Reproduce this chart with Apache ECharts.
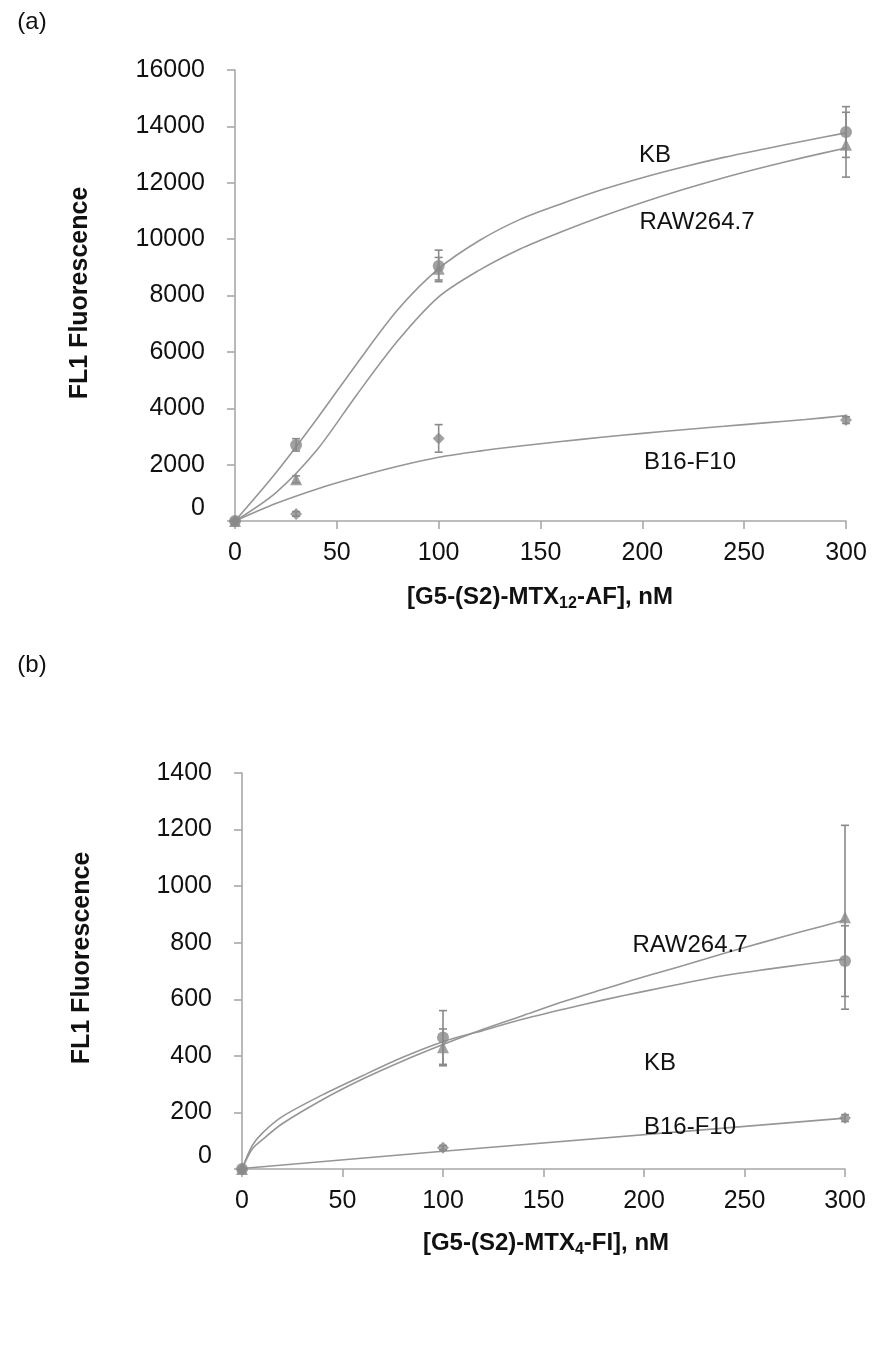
<!DOCTYPE html>
<html>
<head>
<meta charset="utf-8">
<script src="https://cdn.jsdelivr.net/npm/echarts@6/dist/echarts.min.js"></script>
<style>
  html, body { margin: 0; padding: 0; background: #fff; }
  #chart { width: 877px; height: 1357px; }
</style>
</head>
<body>
<div id="chart"></div>
<script>
// ---- Panel (a): G5-(S2)-MTX12-AF uptake ----
const concA = [0, 30, 100, 300];
const kbA = [0, 2700, 9050, 13800];
const kbErrA = [0, 220, 560, 900];
const rawA = [0, 1480, 8950, 13350];
const rawErrA = [0, 120, 400, 1150];
const b16A = [0, 250, 2930, 3580];
const b16ErrA = [0, 80, 490, 120];

// fitted curves, panel (a)
const fitXA = [0, 20, 40, 60, 80, 100, 120, 140, 160, 180, 200, 220, 240, 260, 280, 300];
const kbFitA = [0, 1700, 3600, 5600, 7500, 8950, 9950, 10700, 11250, 11750, 12180, 12560, 12900, 13200, 13490, 13770];
const rawFitA = [0, 1000, 2500, 4500, 6400, 7950, 8900, 9650, 10250, 10800, 11300, 11760, 12180, 12560, 12910, 13230];
const b16FitA = [0, 620, 1130, 1560, 1940, 2260, 2480, 2660, 2820, 2970, 3110, 3240, 3360, 3480, 3600, 3740];

// ---- Panel (b): G5-(S2)-MTX4-FI uptake ----
const concB = [0, 100, 300];
const kbB = [0, 465, 735];
const kbErrB = [0, 95, 125];
const rawB = [0, 430, 890];
const rawErrB = [0, 65, 325];
const b16B = [0, 75, 180];
const b16ErrB = [0, 8, 12];

// fitted curves, panel (b)
const fitXB = [0, 5, 10, 20, 40, 60, 80, 100, 120, 140, 160, 180, 200, 220, 240, 260, 280, 300];
const rawFitB = [0, 70, 103, 160, 245, 318, 382, 440, 494, 543, 592, 636, 680, 720, 763, 803, 842, 880];
const kbFitB = [0, 82, 126, 185, 262, 330, 395, 450, 490, 530, 565, 598, 628, 657, 684, 705, 724, 742];
const b16FitXB = [0, 100, 300];
const b16FitB = [2, 63, 180];

const GREY_MARK = '#8a8a8a';
const GREY_LINE = '#969696';
const GREY_AXIS = '#a8a8a8';
const FONT = 'Liberation Sans, Arial, sans-serif';

const pairs = (xs, ys) => xs.map((x, i) => [x, ys[i]]);
const errs = (xs, ys, es) => xs.map((x, i) => [x, ys[i] - es[i], ys[i] + es[i]]).filter(d => d[2] > d[1]);

function errorBars(gridIdx, data) {
  return {
    type: 'custom', xAxisIndex: gridIdx, yAxisIndex: gridIdx, z: 3,
    data: data,
    renderItem: function (params, api) {
      const x = api.value(0);
      const lo = api.coord([x, api.value(1)]);
      const hi = api.coord([x, api.value(2)]);
      const w = 4;
      const st = { stroke: GREY_MARK, lineWidth: 1.6 };
      return {
        type: 'group',
        children: [
          { type: 'line', shape: { x1: lo[0], y1: lo[1], x2: hi[0], y2: hi[1] }, style: st },
          { type: 'line', shape: { x1: lo[0] - w, y1: lo[1], x2: lo[0] + w, y2: lo[1] }, style: st },
          { type: 'line', shape: { x1: hi[0] - w, y1: hi[1], x2: hi[0] + w, y2: hi[1] }, style: st }
        ]
      };
    }
  };
}

function curve(gridIdx, xs, ys, smooth) {
  return {
    type: 'line', xAxisIndex: gridIdx, yAxisIndex: gridIdx, z: 2,
    data: pairs(xs, ys), smooth: smooth,
    showSymbol: false, symbol: 'none',
    lineStyle: { color: GREY_LINE, width: 1.6 }
  };
}

function points(gridIdx, xs, ys, symbol, size) {
  return {
    type: 'scatter', xAxisIndex: gridIdx, yAxisIndex: gridIdx, z: 4,
    data: pairs(xs, ys), symbol: symbol, symbolSize: size,
    itemStyle: { color: GREY_MARK }
  };
}

function xAxis(gridIdx) {
  return {
    type: 'value', gridIndex: gridIdx, min: 0, max: 300, interval: 50,
    axisLine: { lineStyle: { color: GREY_AXIS, width: 1.6 } },
    axisTick: { show: true, inside: false, length: 8, lineStyle: { color: GREY_AXIS, width: 1.6 } },
    splitLine: { show: false },
    axisLabel: { color: '#111', fontFamily: FONT, fontSize: 25, margin: 20 }
  };
}

function yAxis(gridIdx, max, interval) {
  return {
    type: 'value', gridIndex: gridIdx, min: 0, max: max, interval: interval,
    axisLine: { show: true, lineStyle: { color: GREY_AXIS, width: 1.6 } },
    axisTick: { show: true, inside: false, length: 8, lineStyle: { color: GREY_AXIS, width: 1.6 } },
    splitLine: { show: false },
    axisLabel: {
      color: '#111', fontFamily: FONT, fontSize: 25, margin: 30,
      formatter: v => (v === 0 ? '{z|0}' : String(v)),
      rich: { z: { fontFamily: FONT, fontSize: 25, color: '#111', padding: [0, 0, 26, 0] } }
    }
  };
}

function textEl(x, y, text, opts) {
  return Object.assign({
    type: 'text', x: x, y: y, z: 10,
    style: Object.assign({
      text: text, fill: '#111', font: '24px ' + FONT,
      textAlign: 'center', textVerticalAlign: 'middle'
    }, (opts && opts.style) || {})
  }, (opts && opts.el) || {});
}

const chart = echarts.init(document.getElementById('chart'), null, { renderer: 'canvas' });

chart.setOption({
  backgroundColor: '#ffffff',
  animation: false,
  grid: [
    { left: 235, top: 70, width: 611, height: 451 },
    { left: 242, top: 773, width: 603, height: 396 }
  ],
  xAxis: [xAxis(0), xAxis(1)],
  yAxis: [yAxis(0, 16000, 2000), yAxis(1, 1400, 200)],
  series: [
    curve(0, fitXA, kbFitA, 0.3),
    curve(0, fitXA, rawFitA, 0.3),
    curve(0, fitXA, b16FitA, 0.3),
    errorBars(0, errs(concA, kbA, kbErrA)),
    errorBars(0, errs(concA, rawA, rawErrA)),
    errorBars(0, errs(concA, b16A, b16ErrA)),
    points(0, concA, kbA, 'circle', 12),
    points(0, concA, rawA, 'triangle', 12),
    points(0, concA, b16A, 'diamond', 12),

    curve(1, fitXB, rawFitB, 0.3),
    curve(1, fitXB, kbFitB, 0.3),
    curve(1, b16FitXB, b16FitB, false),
    errorBars(1, errs(concB, kbB, kbErrB)),
    errorBars(1, errs(concB, rawB, rawErrB)),
    errorBars(1, errs(concB, b16B, b16ErrB)),
    points(1, concB, kbB, 'circle', 12),
    points(1, concB, rawB, 'triangle', 12),
    points(1, concB, b16B, 'diamond', 12)
  ],
  graphic: [
    // panel tags
    textEl(32, 22, '(a)', { style: { font: '24px ' + FONT } }),
    textEl(32, 665, '(b)', { style: { font: '24px ' + FONT } }),

    // y-axis titles
    textEl(80, 293, 'FL1 Fluorescence', { style: { font: 'bold 25px ' + FONT }, el: { rotation: Math.PI / 2 } }),
    textEl(82, 958, 'FL1 Fluorescence', { style: { font: 'bold 25px ' + FONT }, el: { rotation: Math.PI / 2 } }),

    // x-axis titles with subscripts
    {
      type: 'text', x: 540, y: 597, z: 10,
      style: {
        text: '{b|[G5-(S2)-MTX}{s|12}{b|-AF], nM}',
        textAlign: 'center', textVerticalAlign: 'middle',
        rich: {
          b: { font: 'bold 24px ' + FONT, fill: '#111' },
          s: { font: 'bold 16px ' + FONT, fill: '#111', padding: [14, 0, 0, 0] }
        }
      }
    },
    {
      type: 'text', x: 546, y: 1243, z: 10,
      style: {
        text: '{b|[G5-(S2)-MTX}{s|4}{b|-FI], nM}',
        textAlign: 'center', textVerticalAlign: 'middle',
        rich: {
          b: { font: 'bold 24px ' + FONT, fill: '#111' },
          s: { font: 'bold 16px ' + FONT, fill: '#111', padding: [14, 0, 0, 0] }
        }
      }
    },

    // series annotations, panel (a)
    textEl(655, 155, 'KB'),
    textEl(697, 222, 'RAW264.7'),
    textEl(690, 462, 'B16-F10'),

    // series annotations, panel (b)
    textEl(690, 945, 'RAW264.7'),
    textEl(660, 1063, 'KB'),
    textEl(690, 1127, 'B16-F10')
  ]
});
</script>
</body>
</html>
